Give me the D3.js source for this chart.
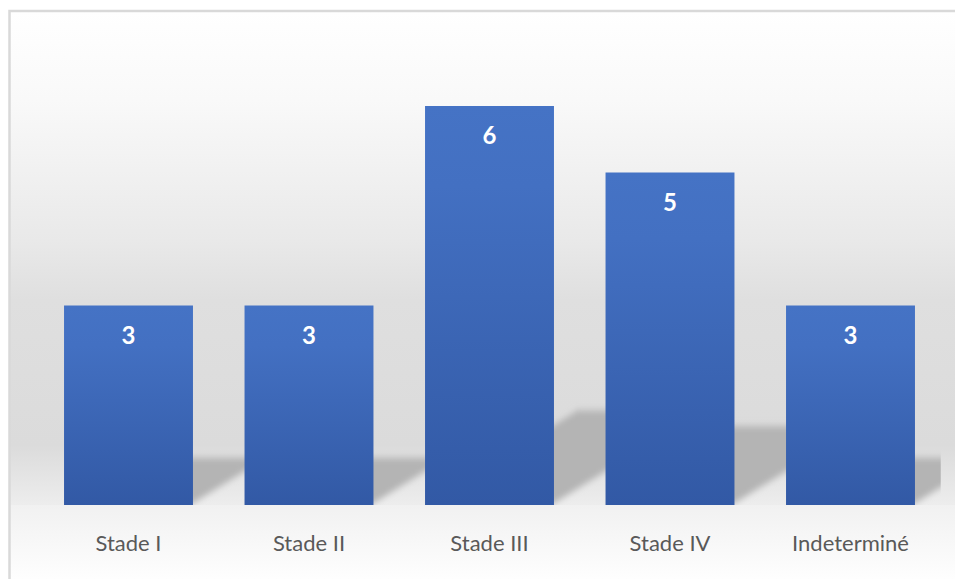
<!DOCTYPE html>
<html>
<head>
<meta charset="utf-8">
<script src="https://cdn.jsdelivr.net/npm/d3@7"></script>
<style>
  html, body { margin: 0; padding: 0; background: #fff; overflow: hidden; }
  svg { display: block; }
</style>
</head>
<body>
<svg id="chart" width="955" height="579"></svg>
<script>
// Patients per stage
const categories = ["Stade I", "Stade II", "Stade III", "Stade IV", "Indeterminé"];
const values = [3, 3, 6, 5, 3];
const yDomain = [0, 7];

const W = 955, H = 579;
const plot = { left: 38.25, right: 940.75, top: 39.5, bottom: 505 };

const svg = d3.select("#chart");
const defs = svg.append("defs");

// Back wall gradient (light at top, grey toward the floor)
const wall = defs.append("linearGradient")
  .attr("id", "wallGrad").attr("gradientUnits", "userSpaceOnUse")
  .attr("x1", 0).attr("x2", 0).attr("y1", 12).attr("y2", plot.bottom);
[[12, "#ffffff"], [100, "#f9f9f9"], [240, "#e9e9e9"], [300, "#dfdfdf"],
 [445, "#dbdbdb"], [505, "#ededed"]].forEach(([yy, c]) => {
  wall.append("stop").attr("offset", (yy - 12) / (plot.bottom - 12)).attr("stop-color", c);
});

// Area under the axis
const floorGrad = defs.append("linearGradient")
  .attr("id", "floorGrad").attr("x1", 0).attr("x2", 0).attr("y1", 0).attr("y2", 1);
floorGrad.append("stop").attr("offset", 0).attr("stop-color", "#f1f1f1");
floorGrad.append("stop").attr("offset", 1).attr("stop-color", "#fefefe");

// Bar fill
const barGrad = defs.append("linearGradient")
  .attr("id", "barGrad").attr("x1", 0).attr("x2", 0).attr("y1", 0).attr("y2", 1);
barGrad.append("stop").attr("offset", 0).attr("stop-color", "#4573c5");
barGrad.append("stop").attr("offset", 0.2).attr("stop-color", "#4370c2");
barGrad.append("stop").attr("offset", 1).attr("stop-color", "#3259a5");

// Soft shadow, blurred more vertically than horizontally
defs.append("filter").attr("id", "soft")
  .attr("x", "-20%").attr("y", "-30%").attr("width", "140%").attr("height", "160%")
  .append("feGaussianBlur").attr("stdDeviation", "2.2 3.6");

defs.append("clipPath").attr("id", "plotClip")
  .append("rect")
  .attr("x", 11).attr("y", 12)
  .attr("width", plot.right - 11).attr("height", plot.bottom - 12);

// Chart background
svg.append("rect").attr("x", 0).attr("y", 0).attr("width", W).attr("height", H).attr("fill", "#ffffff");
svg.append("rect").attr("x", 9).attr("y", 11).attr("width", W).attr("height", plot.bottom - 11)
  .attr("fill", "url(#wallGrad)");
svg.append("rect").attr("x", 9).attr("y", plot.bottom).attr("width", W).attr("height", H - plot.bottom)
  .attr("fill", "url(#floorGrad)");

// Frame
svg.append("rect")
  .attr("x", 9.5).attr("y", 11).attr("width", W + 20).attr("height", H + 20)
  .attr("fill", "none").attr("stroke", "#d9d9d9").attr("stroke-width", 2.5);

const x = d3.scaleBand()
  .domain(categories)
  .range([plot.left, plot.right])
  .paddingInner(2 / 7)
  .paddingOuter(1 / 7);

const y = d3.scaleLinear().domain(yDomain).range([plot.bottom, plot.top]);

const data = categories.map((c, i) => ({ cat: c, value: values[i] }));
const bw = x.bandwidth();

// Perspective shadows cast up and to the right of each bar
const shadowLayer = svg.append("g").attr("clip-path", "url(#plotClip)");
shadowLayer.selectAll("path.shadow")
  .data(data)
  .join("path")
  .attr("class", "shadow")
  .attr("filter", "url(#soft)")
  .attr("fill", "#b4b4b4")
  .attr("d", d => {
    const x0 = x(d.cat), x1 = x0 + bw;
    const barH = y(0) - y(d.value);
    const sh = 0.237 * barH;
    const dx = sh / 0.62;
    const b = y(0);
    return d3.line()([
      [x0, b], [x1 - 3, b], [x1 - 3 + dx, b - sh], [x0 + dx, b - sh]
    ]) + "Z";
  });

// Bars
svg.append("g").selectAll("rect.bar")
  .data(data)
  .join("rect")
  .attr("class", "bar")
  .attr("x", d => x(d.cat))
  .attr("y", d => y(d.value))
  .attr("width", bw)
  .attr("height", d => y(0) - y(d.value))
  .attr("fill", "url(#barGrad)");

// Value labels inside the bars
svg.append("g").selectAll("text.val")
  .data(data)
  .join("text")
  .attr("class", "val")
  .attr("x", d => x(d.cat) + bw / 2)
  .attr("y", d => y(d.value) + 38)
  .attr("text-anchor", "middle")
  .attr("font-family", "Lato, 'Open Sans', sans-serif")
  .attr("font-weight", 700)
  .attr("font-size", 24)
  .attr("fill", "#ffffff")
  .text(d => d.value);

// Category axis (labels only)
const xAxis = svg.append("g")
  .attr("transform", `translate(0,${plot.bottom})`)
  .call(d3.axisBottom(x).tickSize(0).tickPadding(0));
xAxis.select(".domain").remove();
xAxis.selectAll("text")
  .attr("y", 46)
  .attr("dy", 0)
  .attr("font-family", "Lato, 'Open Sans', sans-serif")
  .attr("font-size", 22)
  .attr("fill", "#595959");
</script>
</body>
</html>
